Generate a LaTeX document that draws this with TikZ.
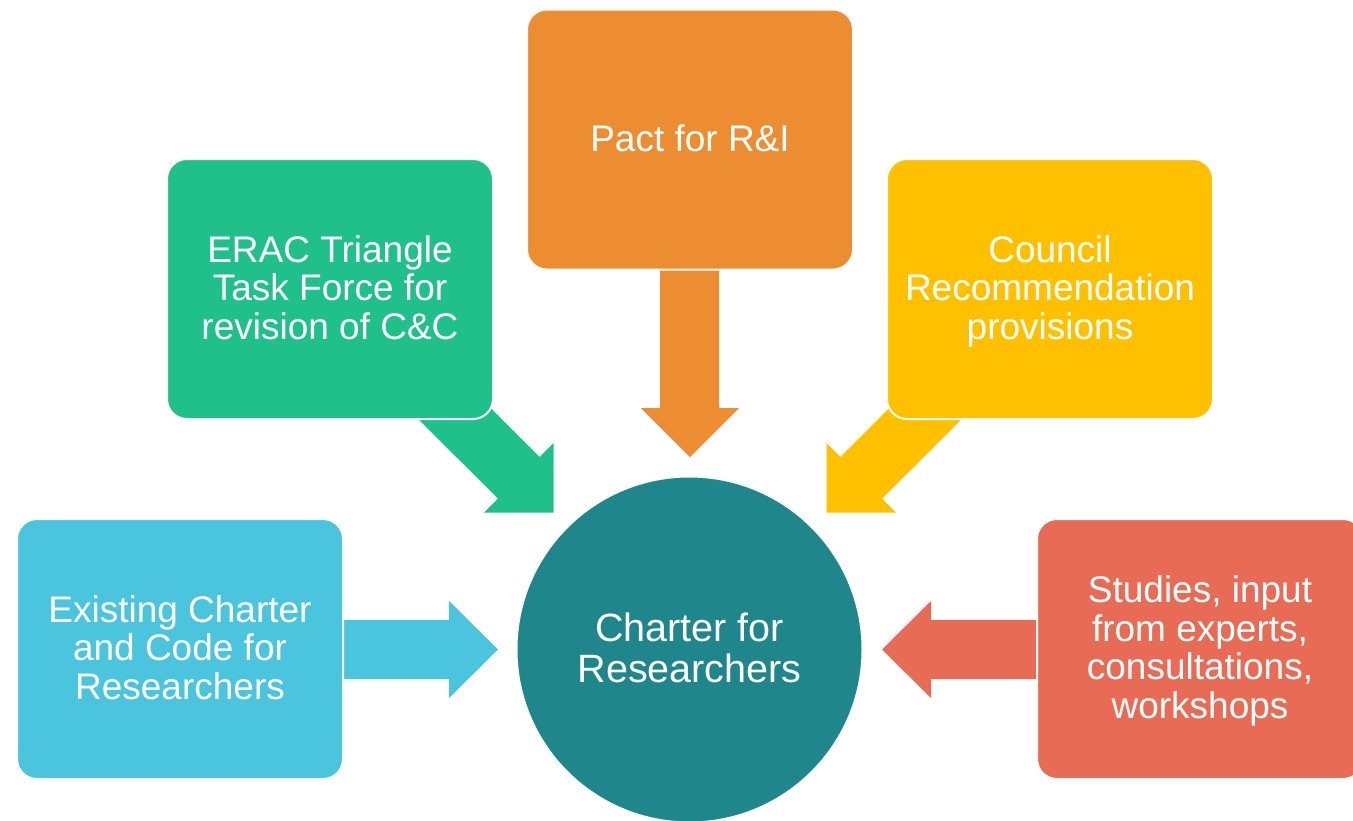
\documentclass[tikz,border=0pt]{standalone}
\usepackage{fontspec}
\setmainfont{Liberation Sans}
% line struts that fix the height of a first line and the depth of a last line
\newcommand\toprl{\rule{0pt}{31pt}}
\newcommand\botrl{\rule[-8pt]{0pt}{8pt}}
\newcommand\hubtop{\rule{0pt}{33pt}}
\newcommand\hubbot{\rule[-8pt]{0pt}{8pt}}
\begin{document}
\definecolor{cOrange}{HTML}{ED8D31}
\definecolor{cGreen}{HTML}{20C08A}
\definecolor{cYellow}{HTML}{FFC000}
\definecolor{cBlue}{HTML}{4BC5DD}
\definecolor{cRed}{HTML}{E86C55}
\definecolor{cTeal}{HTML}{1F878B}
\begin{tikzpicture}[x=1pt,y=-1pt,
  srcbox/.style={rectangle, rounded corners=20pt, draw=white, line width=2pt,
    minimum width=326pt, minimum height=260pt, inner sep=0pt, align=center,
    text=white, font=\fontsize{37}{38.5}\selectfont},
  hub/.style={circle, fill=cTeal, draw=white, line width=1pt, minimum size=345pt,
    inner sep=0pt, align=center, text=white, font=\fontsize{39.5}{41}\selectfont}]
\useasboundingbox (0,0) rectangle (1353,820);

% block arrows, drawn first so the boxes cover their back ends
\fill[cOrange] (660,255) -- (719,255) -- (719,408) -- (739,408) -- (690,457)
  -- (641,408) -- (660,408) -- cycle;
\fill[cBlue] (330,620) -- (449,620) -- (449,601) -- (498,649.5) -- (449,698)
  -- (449,679) -- (330,679) -- cycle;
\fill[cRed] (1050,620) -- (931,620) -- (931,601) -- (882,649.5) -- (931,698)
  -- (931,679) -- (1050,679) -- cycle;
\fill[cGreen] (451.4,368.6) -- (539.7,457.0) -- (553.5,443.2) -- (553.5,512.5)
  -- (484.2,512.5) -- (498.0,498.7) -- (409.6,410.4) -- cycle;
\fill[cYellow] (928.6,368.6) -- (840.3,457.0) -- (826.5,443.2) -- (826.5,512.5)
  -- (895.8,512.5) -- (882.0,498.7) -- (970.4,410.4) -- cycle;

% source boxes
\node[srcbox, fill=cOrange] (pact) at (690,139.5) {\toprl Pact for R\&I\botrl};
\node[srcbox, fill=cGreen] (erac) at (330,289)
  {\toprl ERAC Triangle\\Task Force for\\revision of C\&C\botrl};
\node[srcbox, fill=cYellow] (council) at (1050,289)
  {\toprl Council\\Recommendation\\provisions\botrl};
\node[srcbox, fill=cBlue] (existing) at (180,649)
  {\toprl Existing Charter\\and Code for\\Researchers\botrl};
\node[srcbox, fill=cRed] (studies) at (1200,649)
  {\toprl Studies, input\\from experts,\\consultations,\\workshops\botrl};

% central circle
\node[hub] (charter) at (689.5,649.5) {\hubtop Charter for\\Researchers\hubbot};
\end{tikzpicture}
\end{document}
